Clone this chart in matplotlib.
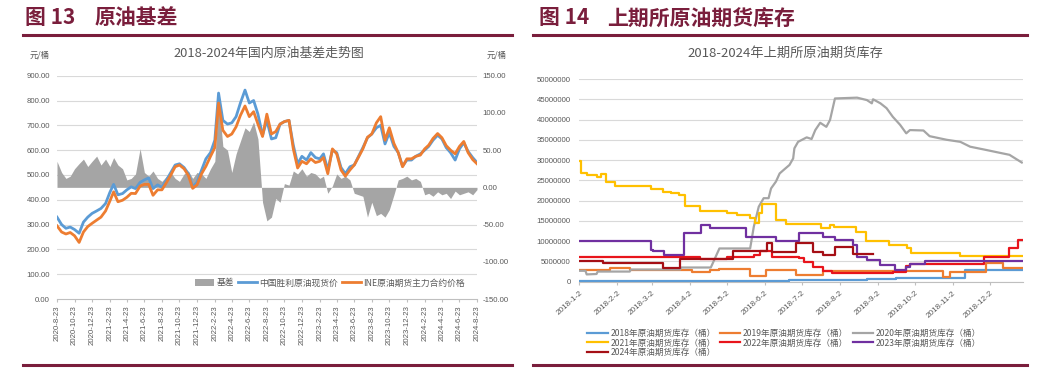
import matplotlib
matplotlib.use("Agg")
import matplotlib.pyplot as plt
import pandas as pd
from matplotlib.patches import Patch
from matplotlib.lines import Line2D
from matplotlib.ticker import FuncFormatter

plt.rcParams['font.family'] = ['Liberation Sans', 'Noto Sans CJK SC', 'DejaVu Sans']

# ---------------- data: left chart (semi-monthly readings) ----------------
basis_dates = ["2020-08-23"]
for _y in range(2020, 2025):
    for _m in range(1, 13):
        if (_y == 2020 and _m < 9) or (_y == 2024 and _m > 8):
            continue
        basis_dates += [f"{_y}-{_m:02d}-08", f"{_y}-{_m:02d}-23"]

spot_price = [330, 300, 285, 290, 280, 265, 310, 330, 345, 355,
              365, 385, 430, 462, 420, 425, 440, 452, 445, 470,
              480, 488, 445, 460, 450, 480, 510, 540, 545, 530,
              505, 452, 470, 520, 565, 590, 640, 830, 720, 705,
              710, 735, 790, 842, 790, 800, 745, 660, 720, 645,
              650, 705, 715, 720, 620, 545, 575, 560, 590, 570,
              565, 585, 520, 600, 590, 530, 505, 533, 540, 575,
              610, 650, 665, 690, 700, 625, 670, 615, 590, 535,
              560, 560, 575, 585, 600, 615, 640, 660, 645, 610,
              590, 560, 605, 630, 595, 570, 550]
futures_price = [295, 270, 262, 268, 255, 228, 270, 292, 305, 318,
                 330, 355, 395, 432, 392, 398, 410, 426, 425, 455,
                 462, 462, 418, 440, 440, 470, 500, 533, 540, 525,
                 498, 446, 460, 505, 535, 575, 610, 790, 680, 655,
                 665, 694, 740, 778, 735, 755, 705, 655, 745, 665,
                 675, 705, 715, 720, 605, 528, 555, 545, 565, 550,
                 555, 570, 505, 605, 585, 520, 495, 520, 540, 572,
                 605, 652, 665, 710, 735, 640, 690, 627, 590, 533,
                 565, 565, 575, 580, 605, 620, 647, 667, 650, 618,
                 600, 585, 615, 635, 590, 562, 545]
basis = [35, 20, 12, 15, 25, 32, 38, 28, 35, 42,
         30, 38, 28, 40, 30, 25, 10, 12, 18, 52,
         20, 15, 22, 12, 8, 15, 20, 12, 8, 18,
         22, 12, 20, 18, 12, 25, 35, 120, 55, 50,
         20, 45, 62, 80, 75, 88, 65, -20, -45, -40,
         -15, -20, 5, 3, 22, 18, 25, 15, 20, 18,
         12, 15, -8, 2, 18, 12, 15, 10, -8, -10,
         -12, -40, -20, -38, -35, -40, -30, -10, 10, 12,
         15, 10, 12, 8, -10, -8, -12, -6, -10, -8,
         -15, -5, -10, -8, -6, -10, -3]

left_tick_dates = ["2020-08-23", "2020-10-23", "2020-12-23", "2021-02-23", "2021-04-23",
                   "2021-06-23", "2021-08-23", "2021-10-23", "2021-12-23", "2022-02-23",
                   "2022-04-23", "2022-06-23", "2022-08-23", "2022-10-23", "2022-12-23",
                   "2023-02-23", "2023-04-23", "2023-06-23", "2023-08-23", "2023-10-23",
                   "2023-12-23", "2024-02-23", "2024-04-23", "2024-06-23", "2024-08-23"]
left_tick_labels = ["2020-8-23", "2020-10-23", "2020-12-23", "2021-2-23", "2021-4-23",
                    "2021-6-23", "2021-8-23", "2021-10-23", "2021-12-23", "2022-2-23",
                    "2022-4-23", "2022-6-23", "2022-8-23", "2022-10-23", "2022-12-23",
                    "2023-2-23", "2023-4-23", "2023-6-23", "2023-8-23", "2023-10-23",
                    "2023-12-23", "2024-2-23", "2024-4-23", "2024-6-23", "2024-8-23"]

# ---------------- data: right chart (inventory, barrels) ----------------
inv2018_dates = ["01-02", "06-22", "07-29", "08-24", "09-17", "11-12", "12-29"]
inv2018 = [100000, 500000, 300000, 600000, 900000, 2800000, 2800000]

inv2019_dates = ["01-02", "01-27", "02-12", "04-04", "04-18", "04-26", "05-21", "06-03",
                 "06-27", "07-19", "10-25", "10-31", "11-29", "12-13", "12-29"]
inv2019 = [2800000, 3300000, 2800000, 2400000, 2900000, 3200000, 1300000, 3000000,
           1600000, 2600000, 1200000, 2500000, 4500000, 3400000, 3400000]

inv2020_dates = ["01-02", "01-07", "01-08", "01-16", "01-17", "02-12", "02-13", "03-25",
                 "03-26", "04-19", "04-26", "05-21", "05-24", "05-28", "06-01", "06-05",
                 "06-07", "06-11", "06-14", "06-17", "06-22", "06-25", "06-26", "06-29",
                 "07-06", "07-10", "07-13", "07-17", "07-22", "07-25", "07-29", "08-16",
                 "08-24", "08-28", "08-29", "09-04", "09-09", "09-14", "09-20", "09-25",
                 "09-28", "10-09", "10-14", "10-28", "11-08", "11-16", "11-29", "12-10",
                 "12-18", "12-28"]
inv2020 = [2700000, 2700000, 1800000, 1900000, 2500000, 2500000, 3000000, 3000000,
           3500000, 3500000, 8200000, 8200000, 13600000, 18500000, 20600000, 20600000,
           23000000, 24700000, 26700000, 27500000, 28800000, 30400000, 32900000, 34500000,
           35600000, 35200000, 37400000, 39200000, 38200000, 39900000, 45200000, 45400000,
           44800000, 44000000, 45000000, 44000000, 42800000, 40700000, 38700000, 36600000,
           37400000, 37300000, 35900000, 35000000, 34500000, 33300000, 32500000, 31800000,
           31300000, 29400000]

inv2021_dates = ["01-02", "01-03", "01-08", "01-16", "01-20", "01-24", "01-31", "03-01",
                 "03-11", "03-18", "03-24", "03-29", "04-10", "05-02", "05-10", "05-21",
                 "05-25", "05-28", "05-31", "06-11", "06-19", "07-18", "07-25", "07-28",
                 "08-15", "08-23", "09-11", "09-26", "09-29", "11-08", "12-29"]
inv2021 = [29800000, 26700000, 26200000, 25800000, 26500000, 24700000, 23500000, 22900000,
           22200000, 21800000, 21400000, 18700000, 17500000, 17000000, 16400000, 15600000,
           14400000, 17000000, 19200000, 15200000, 14200000, 13200000, 14100000, 13600000,
           12300000, 10000000, 9050000, 8200000, 7150000, 6300000, 6300000]

inv2022_dates = ["01-02", "04-10", "05-02", "05-24", "05-29", "06-08", "06-30", "07-04",
                 "07-11", "07-19", "07-27", "09-14", "09-25", "09-28", "11-27", "12-18",
                 "12-25", "12-29"]
inv2022 = [6200000, 5600000, 6200000, 6600000, 7600000, 6200000, 5800000, 4900000,
           3700000, 2700000, 2100000, 2500000, 3900000, 4300000, 6200000, 8200000,
           10300000, 10300000]

inv2023_dates = ["01-02", "03-01", "03-03", "03-12", "03-28", "04-11", "04-18", "05-18",
                 "06-11", "06-30", "07-19", "07-29", "08-13", "08-16", "08-24", "09-04",
                 "09-16", "09-25", "09-28", "10-10", "12-29"]
inv2023 = [10100000, 7800000, 7650000, 6700000, 11900000, 14000000, 13200000, 11100000,
           10100000, 11900000, 11100000, 10300000, 9000000, 6200000, 5400000, 4100000,
           2900000, 3700000, 4400000, 5100000, 5100000]

inv2024_dates = ["01-02", "01-21", "03-11", "03-25", "04-15", "05-07", "06-04", "06-08",
                 "06-27", "07-11", "07-19", "07-29", "08-13", "08-29"]
inv2024 = [5100000, 4700000, 3500000, 5700000, 5500000, 7600000, 9500000, 7400000,
           9600000, 7400000, 6600000, 8600000, 6800000, 6800000]

right_tick_dates = [f"2018-{m:02d}-02" for m in range(1, 13)]
right_tick_labels = [f"2018-{m}-2" for m in range(1, 13)]

series_labels = ["2018年原油期货库存（桶）", "2019年原油期货库存（桶）", "2020年原油期货库存（桶）",
                 "2021年原油期货库存（桶）", "2022年原油期货库存（桶）", "2023年原油期货库存（桶）",
                 "2024年原油期货库存（桶）"]

# ---------------- layout helpers ----------------
W, H = 1038, 368
fig = plt.figure(figsize=(W / 100, H / 100), dpi=100)


def fx(px):
    return px / W


def fy(py):
    return 1 - py / H


MAROON = '#7A1E3C'
TXT = '#595959'
GRID = '#D9D9D9'
CJK = ['Noto Sans CJK SC', 'DejaVu Sans']

# headers and rules
fig.text(fx(25), fy(18), '图 13', fontsize=15, fontweight='bold', color=MAROON,
         family=CJK, va='center', ha='left')
fig.text(fx(95), fy(18), '原油基差', fontsize=15, fontweight='bold', color=MAROON,
         family=CJK, va='center', ha='left')
fig.text(fx(539), fy(18), '图 14', fontsize=15, fontweight='bold', color=MAROON,
         family=CJK, va='center', ha='left')
fig.text(fx(607), fy(18), '上期所原油期货库存', fontsize=15, fontweight='bold', color=MAROON,
         family=CJK, va='center', ha='left')
for x0, x1 in [(23, 512), (533, 1027)]:
    fig.add_artist(Line2D([fx(x0), fx(x1)], [fy(35), fy(35)], color=MAROON, lw=2.2))
    fig.add_artist(Line2D([fx(x0), fx(x1)], [fy(365), fy(365)], color=MAROON, lw=2.2))

fig.text(fx(269), fy(53), '2018-2024年国内原油基差走势图', ha='center', va='center',
         fontsize=9.3, color=TXT, family=CJK)
fig.text(fx(30), fy(55), '元/桶', ha='left', va='center', fontsize=6, color=TXT, family=CJK)
fig.text(fx(487), fy(55), '元/桶', ha='left', va='center', fontsize=6, color=TXT, family=CJK)
fig.text(fx(785), fy(53), '2018-2024年上期所原油期货库存', ha='center', va='center',
         fontsize=9.5, color=TXT, family=CJK)

# ---------------- left chart ----------------
ax_b = fig.add_axes([fx(57), fy(299), fx(477) - fx(57), (299 - 75.7) / H])
ax_p = ax_b.twinx()
ax_p.yaxis.tick_left()
ax_b.yaxis.tick_right()

d_basis = pd.to_datetime(basis_dates)
ax_b.set_ylim(-150, 150)
ax_p.set_ylim(0, 900)
ax_b.set_xlim(pd.Timestamp("2020-08-23"), pd.Timestamp("2024-08-23"))

for v in range(100, 1000, 100):
    ax_b.axhline((v - 450) / 3, color=GRID, lw=0.8, zorder=0)

ax_b.fill_between(d_basis, 0, basis, color='#A5A5A5', lw=0, interpolate=True, zorder=2)
ax_p.plot(d_basis, spot_price, color='#5B9BD5', lw=2.0, zorder=3)
ax_p.plot(d_basis, futures_price, color='#ED7D31', lw=2.0, zorder=4)

ax_b.set_yticks(range(-150, 151, 50))
ax_p.set_yticks(range(0, 901, 100))
fmt2 = FuncFormatter(lambda v, p: f"{v:.2f}")
ax_b.yaxis.set_major_formatter(fmt2)
ax_p.yaxis.set_major_formatter(fmt2)
ax_b.tick_params(axis='y', labelsize=5.6, colors=TXT, length=0, pad=4)
ax_p.tick_params(axis='y', labelsize=5.6, colors=TXT, length=0, pad=5)

ax_b.set_xticks(pd.to_datetime(left_tick_dates))
ax_b.set_xticklabels(left_tick_labels, rotation=90)
ax_b.tick_params(axis='x', labelsize=5.6, colors=TXT, length=2.5, color='#BFBFBF', pad=2)

for a in (ax_b, ax_p):
    for s in a.spines.values():
        s.set_visible(False)
ax_b.spines['bottom'].set_visible(True)
ax_b.spines['bottom'].set_color('#BFBFBF')
ax_b.spines['bottom'].set_linewidth(0.8)

lh = [Patch(facecolor='#A5A5A5', edgecolor='none'),
      Line2D([], [], color='#5B9BD5', lw=2),
      Line2D([], [], color='#ED7D31', lw=2)]
leg1 = fig.legend(lh, ['基差', '中国胜利原油现货价', 'INE原油期货主力合约价格'], loc='center',
                  bbox_to_anchor=(fx(330), fy(283)), ncol=3, frameon=False,
                  prop={'family': CJK, 'size': 6.3}, handlelength=2.2, handleheight=0.8,
                  handletextpad=0.3, columnspacing=0.4, labelcolor=TXT)

# ---------------- right chart ----------------
ax_r = fig.add_axes([fx(579.3), fy(281.7), (1023 - 579.3) / W, (281.7 - 79) / H])
colors = ['#5B9BD5', '#ED7D31', '#A5A5A5', '#FFC000', '#E8141B', '#7030A0', '#A50F15']
all_dates = [inv2018_dates, inv2019_dates, inv2020_dates, inv2021_dates,
             inv2022_dates, inv2023_dates, inv2024_dates]
all_vals = [inv2018, inv2019, inv2020, inv2021, inv2022, inv2023, inv2024]
handles = []
for i, (dd, vv) in enumerate(zip(all_dates, all_vals)):
    dts = pd.to_datetime(["2018-" + s for s in dd])
    ds = 'default' if i == 2 else 'steps-post'
    ln, = ax_r.plot(dts, vv, color=colors[i], lw=1.6, drawstyle=ds, zorder=3 + i)
    handles.append(ln)

ax_r.set_ylim(0, 50000000)
ax_r.set_yticks(range(0, 50000001, 5000000))
ax_r.yaxis.set_major_formatter(FuncFormatter(lambda v, p: f"{int(v)}"))
ax_r.yaxis.grid(True, color=GRID, lw=0.8)
ax_r.set_axisbelow(True)
ax_r.set_xlim(pd.Timestamp("2018-01-02"), pd.Timestamp("2018-12-29"))
ax_r.set_xticks(pd.to_datetime(right_tick_dates))
ax_r.set_xticklabels(right_tick_labels, rotation=42, ha='right', va='top', rotation_mode='anchor')
ax_r.tick_params(axis='x', labelsize=5.9, colors=TXT, length=2.5, color='#BFBFBF', pad=3)
ax_r.tick_params(axis='y', labelsize=5.6, colors=TXT, length=0, pad=6)
for s in ax_r.spines.values():
    s.set_visible(False)
ax_r.spines['bottom'].set_visible(True)
ax_r.spines['bottom'].set_color('#BFBFBF')
ax_r.spines['bottom'].set_linewidth(0.8)

order = [0, 3, 6, 1, 4, 2, 5]
leg2 = fig.legend([handles[k] for k in order], [series_labels[k] for k in order], loc='center',
                  bbox_to_anchor=(fx(784), fy(343)), ncol=3, frameon=False,
                  prop={'family': CJK, 'size': 6.2}, handlelength=2.4,
                  handletextpad=0.3, columnspacing=0.5, labelspacing=0.05, labelcolor=TXT)

fig.savefig("out.png", dpi=100)
